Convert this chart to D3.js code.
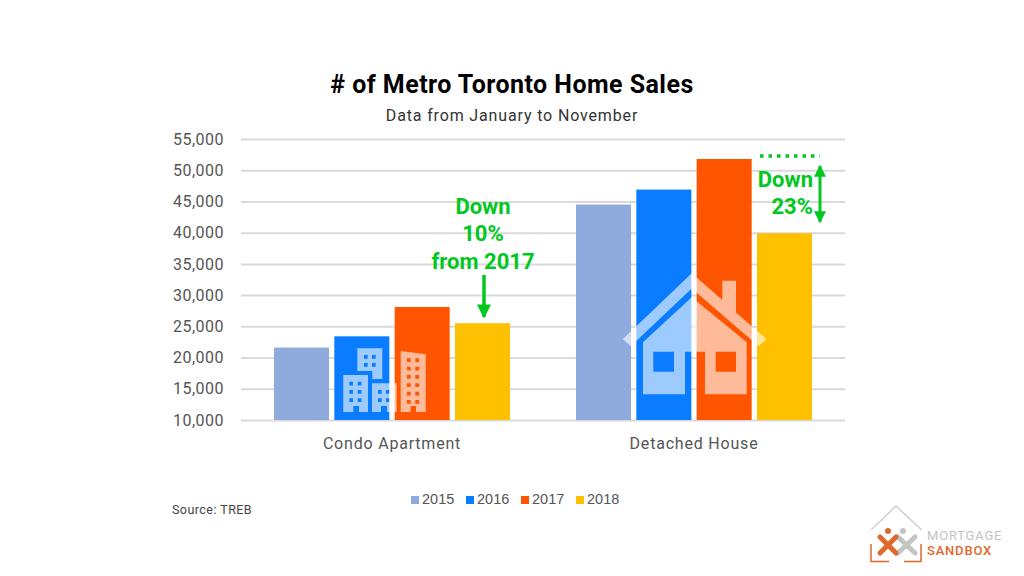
<!DOCTYPE html>
<html>
<head>
<meta charset="utf-8">
<script src="https://cdn.jsdelivr.net/npm/d3@7"></script>
<style>
  html, body { margin: 0; padding: 0; background: #fff; }
  svg { display: block; font-family: Roboto, sans-serif; }
</style>
</head>
<body>
<div id="chart"></div>
<script>
// data
const categories = ["Condo Apartment", "Detached House"];
const years = ["2015", "2016", "2017", "2018"];
const sales2015 = [21600, 44500];
const sales2016 = [23400, 46900];
const sales2017 = [28100, 51800];
const sales2018 = [25500, 39900];
const yearColors = ["#8faadc", "#0a7cff", "#ff5500", "#ffc000"];
const yTicks = [10000, 15000, 20000, 25000, 30000, 35000, 40000, 45000, 50000, 55000];

const seriesValues = [sales2015, sales2016, sales2017, sales2018];
const green = "#00c81e";

const svg = d3.select("#chart").append("svg")
  .attr("width", 1024)
  .attr("height", 576);

// scales
const x0 = d3.scaleBand().domain(categories).range([241, 845]);
const x1 = d3.scaleBand().domain(years)
  .range([0, 236]).paddingInner(0.088).paddingOuter(0);
const groupOffset = (x0.bandwidth() - 236) / 2;
const y = d3.scaleLinear().domain([10000, 55000]).range([420, 139]);

// grid lines and y labels
const yAxis = svg.append("g")
  .attr("transform", "translate(241,0)")
  .call(d3.axisLeft(y).tickValues(yTicks).tickSize(-604).tickPadding(17).tickFormat(d3.format(",")));
yAxis.select(".domain").remove();
yAxis.selectAll("line").attr("stroke", "#d9d9d9").attr("stroke-width", 2);
yAxis.selectAll("text")
  .attr("font-family", "Roboto, sans-serif")
  .attr("font-size", 16)
  .attr("letter-spacing", 0.5)
  .attr("fill", "#555");

// bars
const groups = svg.selectAll("g.year")
  .data(years)
  .enter().append("g")
  .attr("class", "year")
  .attr("fill", (d, i) => yearColors[i]);

groups.selectAll("rect")
  .data((d, i) => categories.map((c, j) => ({ cat: c, year: d, value: seriesValues[i][j] })))
  .enter().append("rect")
  .attr("x", d => x0(d.cat) + groupOffset + x1(d.year))
  .attr("y", d => y(d.value))
  .attr("width", x1.bandwidth())
  .attr("height", d => y(10000) - y(d.value));

// category labels
svg.selectAll("text.cat")
  .data(categories)
  .enter().append("text")
  .attr("class", "cat")
  .attr("x", d => x0(d) + x0.bandwidth() / 2)
  .attr("y", 449)
  .attr("text-anchor", "middle")
  .attr("font-size", 16)
  .attr("letter-spacing", 0.8)
  .attr("fill", "#555")
  .text(d => d);

// title
svg.append("text")
  .attr("x", 512).attr("y", 93)
  .attr("text-anchor", "middle")
  .attr("font-size", 25)
  .attr("font-weight", 700)
  .attr("letter-spacing", 0.45)
  .attr("fill", "#000")
  .text("# of Metro Toronto Home Sales");
svg.append("text")
  .attr("x", 512).attr("y", 121)
  .attr("text-anchor", "middle")
  .attr("font-size", 16)
  .attr("letter-spacing", 0.85)
  .attr("fill", "#333")
  .text("Data from January to November");

// legend
const legendX = d3.scalePoint().domain(years).range([411, 576]);
const legend = svg.selectAll("g.legend")
  .data(years)
  .enter().append("g")
  .attr("class", "legend")
  .attr("transform", d => "translate(" + legendX(d) + ",0)");
legend.append("rect")
  .attr("y", 496).attr("width", 8).attr("height", 8)
  .attr("fill", (d, i) => yearColors[i]);
legend.append("text")
  .attr("x", 11).attr("y", 504)
  .attr("font-family", "'Liberation Sans', sans-serif")
  .attr("font-size", 14.5)
  .attr("fill", "#555")
  .text(d => d);

svg.append("text")
  .attr("x", 172).attr("y", 514)
  .attr("font-size", 12.5)
  .attr("letter-spacing", 0.45)
  .attr("fill", "#444")
  .text("Source: TREB");

// building icons over the condo bars
const windows = (xs, ys, s) => xs.flatMap(wx => ys.map(wy =>
  "M" + wx + "," + wy + "h" + s + "v" + s + "h" + (-s) + "z")).join("");
const buildings = [
  "M357.3,348.3H382.3V379H372.3V371H357.3Z" + windows([364, 372], [355, 363], 3.7),
  "M343.3,375H368V412H359V406H353.3V412H343.3Z" + windows([349.3, 357.7], [381.7, 390, 398.3], 3.7),
  "M372,383.3H396.7V412H372Z" + windows([378, 386], [390, 398.3], 3.7) + "M381,412V406H387V412Z",
  "M400.7,351L425.7,354.3V412H416V406H410.7V412H400.7Z" + windows([407, 415.3], [358.3, 366.7, 375, 383.3, 391.7, 400], 3.7)
];
svg.append("path")
  .attr("d", buildings.join(""))
  .attr("fill", "#fff").attr("fill-opacity", 0.6).attr("fill-rule", "evenodd");

// house icon over the detached bars
const house = [
  "M622.7,339.3L691.7,273.3L722.3,300V280.7H736V312.5L766.7,339.3L758.5,346L691.7,288.5L631,346Z",
  "M643,342.3L691.7,297.3L746.7,342.3V394.3H705V351.7H685V394.3H643Z",
  "M653.3,351.7H674V371.7H653.3Z",
  "M715.7,351.7H736V371.7H715.7Z"
];
svg.append("path")
  .attr("d", house.join(""))
  .attr("fill", "#fff").attr("fill-opacity", 0.6).attr("fill-rule", "evenodd");

// arrow heads for the annotations
const defs = svg.append("defs");
defs.append("marker")
  .attr("id", "head")
  .attr("viewBox", "0 0 10 10")
  .attr("refX", 9).attr("refY", 5)
  .attr("markerWidth", 4).attr("markerHeight", 4)
  .attr("orient", "auto-start-reverse")
  .append("path").attr("d", "M0,0L10,5L0,10Z").attr("fill", green);

// annotations
const note = (x, yPos, anchor, label) => svg.append("text")
  .attr("x", x).attr("y", yPos)
  .attr("text-anchor", anchor)
  .attr("font-size", 22)
  .attr("font-weight", 700)
  .attr("fill", green)
  .text(label);
note(483, 214, "middle", "Down");
note(483, 241, "middle", "10%");
note(483, 269, "middle", "from 2017");
note(813, 187, "end", "Down");
note(813, 214, "end", "23%");

svg.append("line")
  .attr("x1", 484).attr("x2", 484).attr("y1", 275).attr("y2", 317)
  .attr("stroke", green).attr("stroke-width", 3.5)
  .attr("marker-end", "url(#head)");
svg.append("line")
  .attr("x1", 820).attr("x2", 820).attr("y1", 166).attr("y2", 222)
  .attr("stroke", green).attr("stroke-width", 3)
  .attr("marker-start", "url(#head)")
  .attr("marker-end", "url(#head)");
svg.append("line")
  .attr("x1", 760).attr("x2", 820).attr("y1", 156).attr("y2", 156)
  .attr("stroke", green).attr("stroke-width", 3.5)
  .attr("stroke-dasharray", "3.5 5");

// logo
const logo = svg.append("g").attr("fill", "none");
logo.append("path")
  .attr("d", "M871,530L896,506L921.7,530")
  .attr("stroke", "#d0d0d0").attr("stroke-width", 1.5);
logo.append("path")
  .attr("d", "M871,544V561.5H889M904,561.5H921V544")
  .attr("stroke", "#e0682c").attr("stroke-width", 1.5);
logo.append("path")
  .attr("d", "M898,537L915,553M915,537L898,553")
  .attr("stroke", "#c4c4c4").attr("stroke-width", 5).attr("stroke-linecap", "round");
logo.append("circle").attr("cx", 903).attr("cy", 531).attr("r", 3).attr("fill", "#c4c4c4");
logo.append("path")
  .attr("d", "M880,537L896,553M896,537L880,553")
  .attr("stroke", "#e0682c").attr("stroke-width", 5).attr("stroke-linecap", "round");
logo.append("circle").attr("cx", 888).attr("cy", 531).attr("r", 3).attr("fill", "#e0682c");
logo.append("text")
  .attr("x", 927).attr("y", 540)
  .attr("font-size", 13).attr("letter-spacing", 0.8)
  .attr("fill", "#c4c4c4")
  .text("MORTGAGE");
logo.append("text")
  .attr("x", 927).attr("y", 555)
  .attr("font-size", 13).attr("font-weight", 500).attr("letter-spacing", 0.8)
  .attr("fill", "#e0682c")
  .text("SANDBOX");
</script>
</body>
</html>
